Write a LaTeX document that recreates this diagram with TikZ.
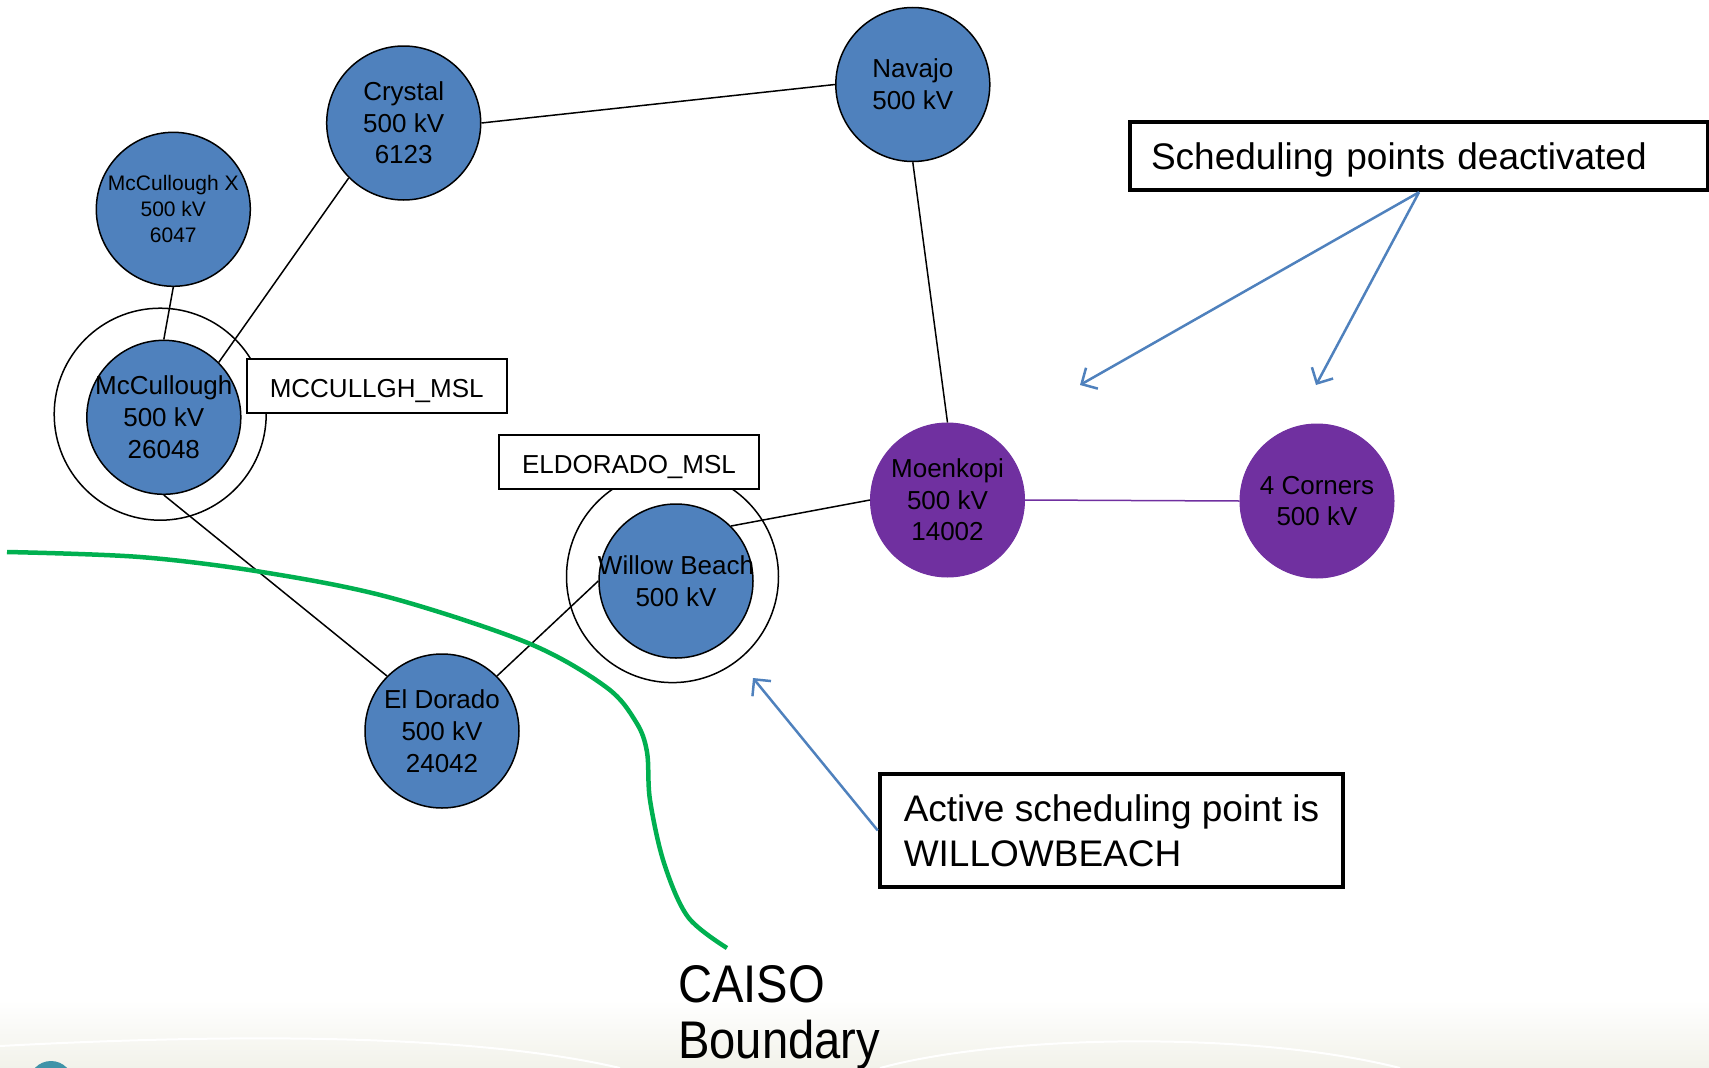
\documentclass[tikz,border=0pt]{standalone}
\usepackage{fontspec}
\setmainfont{Liberation Sans}
\usetikzlibrary{arrows.meta}
\definecolor{stblue}{HTML}{4F81BD}
\definecolor{stpurple}{HTML}{7030A0}
\definecolor{bndgreen}{HTML}{00B050}
\definecolor{bgcream}{HTML}{F2F2EA}
\definecolor{logoteal}{HTML}{3F93A8}
\begin{document}
\begin{tikzpicture}[x=1pt,y=-1pt,
  station/.style={circle,draw=black,line width=1.5pt,fill=stblue,minimum size=154pt,inner sep=0pt},
  hub/.style={circle,draw=stpurple,line width=1pt,fill=stpurple,minimum size=154pt,inner sep=0pt},
  ring/.style={circle,draw=black,line width=1.5pt,minimum size=212pt,inner sep=0pt},
  sttext/.style={font=\fontsize{26}{31.7}\selectfont,align=center,inner sep=0pt},
  smalltext/.style={font=\fontsize{21}{26}\selectfont,align=center,inner sep=0pt},
  mslbox/.style={draw=black,line width=1.6pt,fill=white,minimum width=260pt,minimum height=54pt,text height=22pt,text depth=0pt,font=\fontsize{26}{31}\selectfont},
  notebox/.style={draw=black,line width=4.5pt,fill=white,align=left,font=\fontsize{37}{44.7}\selectfont},
  line/.style={draw=black,line width=1.5pt},
  pointer/.style={draw=stblue,line width=2.5pt,-{Straight Barb[length=12pt,width=24pt,line width=2.5pt]}}]
\useasboundingbox (0,0) rectangle (1709,1068);
\clip (0,0) rectangle (1709,1068);
\shade[top color=white,bottom color=bgcream] (0,1000) rectangle (1709,1068);
\draw[white,line width=2pt] (0,1046) .. controls (300,1030) and (500,1040) .. (620,1068);
\draw[white,line width=2pt] (880,1068) .. controls (1000,1035) and (1250,1030) .. (1400,1068);
\fill[logoteal] (51,1083) circle (22);
\node[station,label={[sttext]center:Crystal\\500 kV\\6123}] (crystal) at (403.7,123) {};
\node[station,label={[sttext]center:Navajo\\500 kV}] (navajo) at (912.8,84.5) {};
\node[station,label={[smalltext]center:McCullough X\\500 kV\\6047}] (mccx) at (173.3,209.3) {};
\node[station,label={[sttext]center:McCullough\\500 kV\\26048}] (mccul) at (163.8,417.3) {};
\node[station,label={[sttext]center:Willow Beach\\500 kV}] (willow) at (676,581) {};
\node[station,label={[sttext]center:El Dorado\\500 kV\\24042}] (eldorado) at (442,731) {};
\node[hub,label={[sttext]center:Moenkopi\\500 kV\\14002}] (moenkopi) at (947.5,500) {};
\node[hub,label={[sttext]center:4 Corners\\500 kV}] (corners) at (1317,501) {};
\draw[line] (crystal.east) -- (navajo.west);
\draw[line] (crystal.south west) -- (mccul.north east);
\draw[line] (mccx.south) -- (mccul.north);
\draw[line] (mccul.south) -- (eldorado.north west);
\draw[line] (eldorado.north east) -- (willow.west);
\draw[line] (willow.north east) -- (moenkopi.west);
\draw[line] (navajo.south) -- (moenkopi.north);
\draw[stpurple,line width=1.5pt] (moenkopi.east) -- (corners.west);
\node[ring] (mcculring) at (160.2,414.2) {};
\node[ring] (willowring) at (672.5,576.6) {};
\node[mslbox] (mcculmsl) at (376.7,386) {MCCULLGH\_MSL};
\node[mslbox] (eldomsl) at (629,462) {ELDORADO\_MSL};
\node[notebox,inner xsep=21pt,minimum height=68pt,text width=536pt,text height=27pt,text depth=1pt] (deact) at (1419,156) {Scheduling points deactivated};
\node[notebox,minimum width=463pt,minimum height=113pt] (active) at (1111.5,830.5) {Active scheduling point is\\WILLOWBEACH};
\coordinate (deactleft) at (1080,385);
\coordinate (deactright) at (1316,385);
\coordinate (activetip) at (753,678);
\draw[pointer] (deact.south) -- (deactleft);
\draw[pointer] (deact.south) -- (deactright);
\draw[pointer] (active.west) -- (activetip);
\draw[bndgreen,line width=4.5pt] plot[smooth,tension=0.55] coordinates {(7,552) (140,557) (262,572) (388,597) (528,643) (606,687) (636,722) (647,752) (650,800) (664,863) (688,917) (727,948)};
\node[anchor=base west,align=left,inner sep=0pt,xscale=0.89,font=\fontsize{53}{56}\selectfont] (caiso) at (678,1058) {CAISO\\Boundary};
\end{tikzpicture}
\end{document}
